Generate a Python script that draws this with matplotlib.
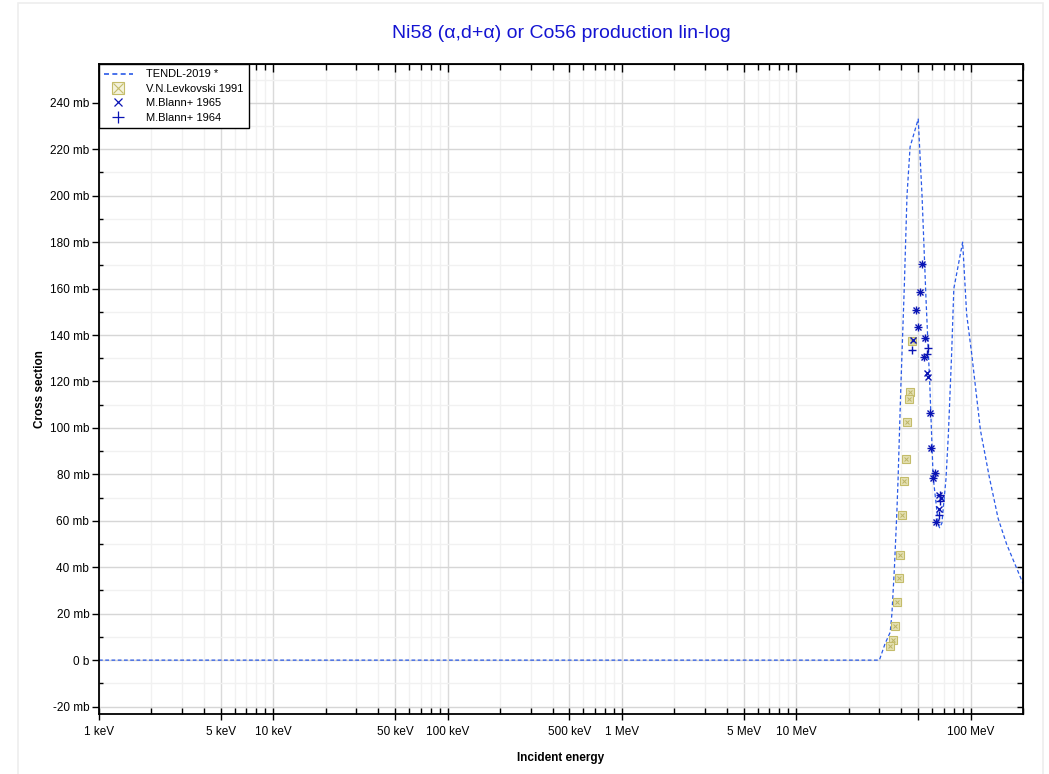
import matplotlib
matplotlib.use("Agg")
import matplotlib.pyplot as plt
from matplotlib.ticker import FixedLocator, NullFormatter, FixedFormatter
from matplotlib.legend_handler import HandlerTuple
from matplotlib.patches import Rectangle

plt.rcParams['font.family'] = ['Liberation Sans', 'DejaVu Sans']

# ---------------- data (energies in MeV, cross sections in mb) ----------------
tendl_e = [0.001, 30.0, 32.3, 34.6, 35.4, 36.6, 37.8, 38.4, 39.8, 41.7, 43.2, 45.0,
           50.1, 52.7, 55.5, 58.5, 61.0, 65.5, 66.5, 68.5, 72.3, 74.6, 78.0, 80.2,
           90.1, 95.0, 101.5, 114.0, 128.0, 144.0, 161.0, 200.0]
tendl_xs = [0, 0, 7, 12, 20, 40, 64, 78, 117, 161, 200, 221,
            233, 200, 156, 117, 79, 58, 57, 59, 78, 97, 133, 160,
            180, 149, 132, 99, 79, 61, 50, 33]

levk_e = [46.0, 45.0, 44.4, 43.4, 42.5, 41.6, 40.6, 39.6, 38.7, 37.9, 36.9, 35.8, 34.5]
levk_xs = [137.5, 115.5, 112.6, 102.5, 86.4, 77.3, 62.4, 45.2, 35.2, 25.1, 14.7, 8.7, 6.1]

blann65_e = [52.5, 51.3, 48.9, 50.0, 47.0, 55.0, 53.9, 56.5, 56.8, 58.5, 59.6, 62.5,
             61.2, 66.2, 67.4, 65.9, 63.1]
blann65_xs = [170.8, 158.4, 150.6, 143.5, 138.0, 138.6, 130.5, 123.5, 122.0, 106.5, 91.3, 80.6,
              78.6, 71.2, 69.8, 65.0, 59.5]

blann64_e = [52.5, 51.3, 48.9, 50.0, 46.2, 55.0, 57.0, 56.5, 53.9, 58.5, 59.6, 62.5,
             61.2, 66.8, 66.8, 65.9, 63.1]
blann64_xs = [170.8, 158.4, 150.6, 143.5, 133.6, 138.6, 134.3, 132.0, 130.5, 106.5, 91.3, 80.6,
              78.6, 71.0, 68.5, 62.4, 59.5]

xtick_vals = [1e-3, 5e-3, 1e-2, 5e-2, 1e-1, 5e-1, 1, 5, 10, 50, 100]
xtick_labels = ['1 keV', '5 keV', '10 keV', '50 keV', '100 keV', '500 keV', '1 MeV',
                '5 MeV', '10 MeV', '', '100 MeV']
ytick_vals = [-20, 0, 20, 40, 60, 80, 100, 120, 140, 160, 180, 200, 220, 240]
ytick_labels = ['-20 mb', '0 b', '20 mb', '40 mb', '60 mb', '80 mb', '100 mb', '120 mb',
                '140 mb', '160 mb', '180 mb', '200 mb', '220 mb', '240 mb']

title = 'Ni58 (\u03b1,d+\u03b1) or Co56 production lin-log'

# ---------------- figure ----------------
fig = plt.figure(figsize=(10.49, 7.74), dpi=100)
fig.patches.append(Rectangle((18 / 1049, -0.01), (1043 - 18) / 1049, (769 + 10) / 774,
                             transform=fig.transFigure, fill=False,
                             edgecolor='#eeeeee', linewidth=1.2))
ax = fig.add_axes([99 / 1049, (774 - 714) / 774, (1023 - 99) / 1049, (714 - 64.5) / 774])

ax.set_xscale('log')
ax.set_xlim(1e-3, 200)
ax.set_ylim(-23.2, 256.5)

# grids
minor_x = []
dark_x = []
for dec in [1e-3, 1e-2, 1e-1, 1, 10, 100]:
    for m in range(1, 10):
        v = m * dec
        if v > 200:
            continue
        if m in (1, 5):
            dark_x.append(v)
        else:
            minor_x.append(v)
for v in minor_x:
    ax.axvline(v, color='#f1f1f1', lw=1.0, zorder=0)
for v in dark_x:
    ax.axvline(v, color='#dadada', lw=1.0, zorder=0)
for v in range(-10, 260, 20):
    ax.axhline(v, color='#f1f1f1', lw=1.0, zorder=0)
for v in ytick_vals:
    ax.axhline(v, color='#d6d6d6', lw=1.0, zorder=0)

# data
ax.plot(tendl_e, tendl_xs, linestyle=(0, (3, 2)), color='#2a5ae8', lw=0.9, zorder=2)
ax.plot(levk_e, levk_xs, linestyle='none', marker='s', ms=6, mfc='#e4e0b2',
        mec='#c4bc6a', mew=0.8, zorder=3)
ax.plot(levk_e, levk_xs, linestyle='none', marker='x', ms=3.5, mec='#bdb566',
        mew=0.7, zorder=3)
ax.plot(blann65_e, blann65_xs, linestyle='none', marker='x', ms=4.5, mec='#0a14b4',
        mew=1.0, zorder=4)
ax.plot(blann64_e, blann64_xs, linestyle='none', marker='+', ms=6, mec='#0a14b4',
        mew=1.0, zorder=4)

# legend
h_t, = ax.plot([], [], linestyle=(0, (3, 2)), color='#2a5ae8', lw=1.2)
h_s, = ax.plot([], [], linestyle='none', marker='s', ms=8, mfc='#f4f2dc', mec='#c4bc6a', mew=0.8)
h_x, = ax.plot([], [], linestyle='none', marker='x', ms=7, mec='#c4bc6a', mew=0.8)
h_65, = ax.plot([], [], linestyle='none', marker='x', ms=6, mec='#0a14b4', mew=0.9)
h_64, = ax.plot([], [], linestyle='none', marker='+', ms=9, mec='#0a14b4', mew=0.9)
leg = ax.legend([h_t, (h_s, h_x), h_65, h_64],
                ['TENDL-2019 *', 'V.N.Levkovski 1991', 'M.Blann+ 1965', 'M.Blann+ 1964'],
                handler_map={tuple: HandlerTuple(ndivide=1, pad=0)},
                loc='upper left', bbox_to_anchor=(0, 1), fontsize=8, frameon=True,
                fancybox=False, framealpha=1, edgecolor='black', borderpad=0.45,
                labelspacing=0.4, handlelength=2.6, handletextpad=1.2, borderaxespad=0)
leg.get_frame().set_linewidth(1.0)
leg.set_zorder(10)

# ticks
ax.xaxis.set_major_locator(FixedLocator(xtick_vals))
ax.xaxis.set_major_formatter(FixedFormatter(xtick_labels))
ax.xaxis.set_minor_locator(FixedLocator(minor_x))
ax.xaxis.set_minor_formatter(NullFormatter())
ax.yaxis.set_major_locator(FixedLocator(ytick_vals))
ax.yaxis.set_major_formatter(FixedFormatter(ytick_labels))
ax.yaxis.set_minor_locator(FixedLocator(list(range(-10, 260, 20))))

ax.tick_params(axis='x', which='major', direction='inout', length=9, width=1,
               top=False, labelsize=8.5, pad=4)
ax.tick_params(axis='x', which='minor', direction='in', length=4, width=1, top=False)
ax.tick_params(axis='y', which='major', direction='out', length=5, width=1,
               labelsize=8.5, pad=2, right=False)
ax.tick_params(axis='y', which='minor', direction='in', length=3, width=1, right=False)

# top and right ticks pointing inward
axt = ax.secondary_xaxis('top')
axt.xaxis.set_major_locator(FixedLocator(xtick_vals))
axt.xaxis.set_minor_locator(FixedLocator(minor_x))
axt.tick_params(axis='x', which='major', direction='in', length=6, width=1, labeltop=False)
axt.tick_params(axis='x', which='minor', direction='in', length=4, width=1)
axr = ax.secondary_yaxis('right')
axr.yaxis.set_major_locator(FixedLocator(list(range(-20, 260, 10))))
axr.tick_params(axis='y', which='major', direction='in', length=4, width=1, labelright=False)

for s in ax.spines.values():
    s.set_linewidth(1.3)
    s.set_color('black')

ax.set_xlabel('Incident energy', fontsize=8.5, fontweight='bold', labelpad=10)
ax.set_ylabel('Cross section', fontsize=8.5, fontweight='bold', labelpad=3)
fig.text(561 / 1049, 1 - 33 / 774, title, ha='center', va='center', fontsize=14,
         color='#1414d2')

fig.savefig('out.png', dpi=100)
